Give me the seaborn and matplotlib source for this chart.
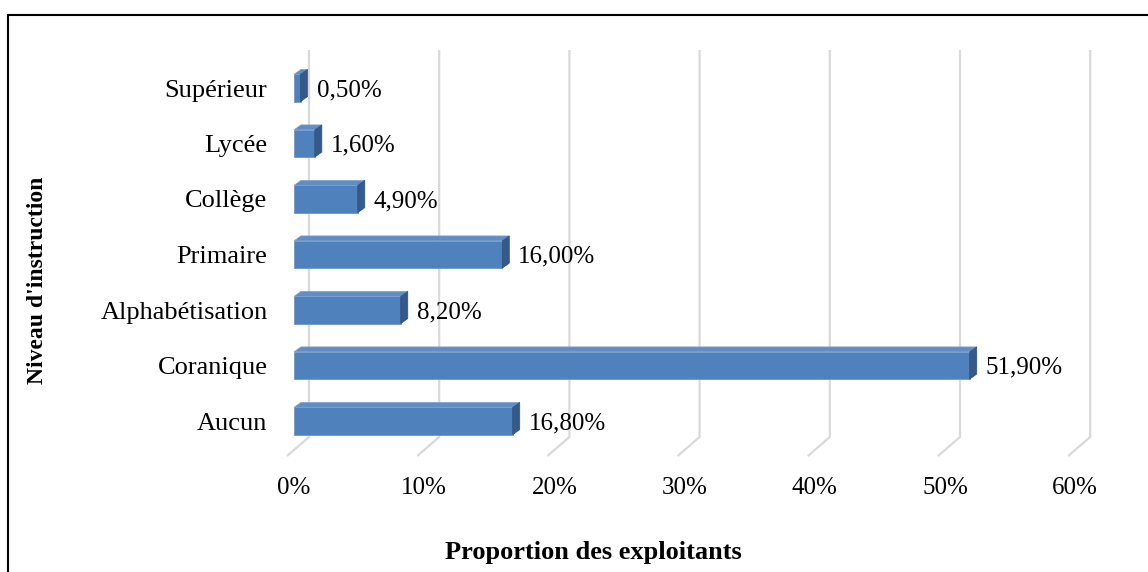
import matplotlib
matplotlib.use("Agg")
import matplotlib.pyplot as plt
import matplotlib.transforms as mtransforms
from matplotlib.patches import Polygon, Rectangle
import seaborn as sns
import pandas as pd

categories = ["Supérieur", "Lycée", "Collège", "Primaire", "Alphabétisation", "Coranique", "Aucun"]
values = [0.5, 1.6, 4.9, 16.0, 8.2, 51.9, 16.8]
value_labels = ["0,50%", "1,60%", "4,90%", "16,00%", "8,20%", "51,90%", "16,80%"]
x_ticks = [0, 10, 20, 30, 40, 50, 60]
x_tick_labels = ["0%", "10%", "20%", "30%", "40%", "50%", "60%"]
x_title = "Proportion des exploitants"
y_title = "Niveau d'instruction"

sns.set_theme(style="white")
plt.rcParams["font.family"] = ["Liberation Serif", "DejaVu Serif"]
plt.rcParams["text.color"] = "black"
plt.rcParams["xtick.color"] = "black"
plt.rcParams["ytick.color"] = "black"
plt.rcParams["axes.labelcolor"] = "black"

df = pd.DataFrame({"cat": categories, "val": values})

W, H = 1148, 572
fig = plt.figure(figsize=(W / 100, H / 100), dpi=100)
ax_l, ax_r, ax_t, ax_b = 280, 1100, 50, 445
ax = fig.add_axes([ax_l / W, 1 - ax_b / H, (ax_r - ax_l) / W, (ax_b - ax_t) / H])

bar_w = 0.49
face = "#4F81BD"
sns.barplot(data=df, x="val", y="cat", order=categories, orient="h",
            color=face, saturation=1, width=bar_w, ax=ax,
            edgecolor="#6F97C8", linewidth=0.6, zorder=3)

pxx = 13.02   # pixels per data unit (x)
pxy = 55.5    # pixels per category (y)
x0 = (ax_l - 294) / pxx
x1 = (ax_r - 294) / pxx
y_top = (ax_t - 88) / pxy
y_bot = (ax_b - 88) / pxy
ax.set_xlim(x0, x1)
ax.set_ylim(y_bot, y_top)

# 3D side & top faces of each bar
ddx, ddy = 7 / pxx, -5 / pxy
for p in list(ax.patches):
    xl, yb, w, h = p.get_x(), p.get_y(), p.get_width(), p.get_height()
    ytop = yb
    ybtm = yb + h
    xr = xl + w
    top = Polygon([(xl, ytop), (xr, ytop), (xr + ddx, ytop + ddy), (xl + ddx, ytop + ddy)],
                  closed=True, facecolor="#5F8DC6", edgecolor="#7FA3D0", lw=0.5, zorder=3)
    side = Polygon([(xr, ytop), (xr + ddx, ytop + ddy), (xr + ddx, ybtm + ddy), (xr, ybtm)],
                   closed=True, facecolor="#36598A", edgecolor="#2F4F7A", lw=0.5, zorder=3)
    ax.add_patch(top)
    ax.add_patch(side)

# back-wall gridlines with floor diagonals
gx_back = 15 / pxx
gx_front = -7 / pxx
y_wall_bottom = (437 - 88) / pxy
y_floor = (456 - 88) / pxy
for v in x_ticks:
    ax.plot([v + gx_back, v + gx_back, v + gx_front],
            [y_top, y_wall_bottom, y_floor],
            color="#D9D9D9", lw=1.6, zorder=1, clip_on=False,
            solid_capstyle="butt")

# value labels
for i, (v, lab) in enumerate(zip(values, value_labels)):
    ax.text(v + ddx + 9 / pxx, i + 0.04, lab, va="center", ha="left",
            fontsize=18, color="black", zorder=4)

ax.set_xticks(x_ticks)
ax.set_xticklabels(x_tick_labels, fontsize=18, color="black")
shift = mtransforms.ScaledTranslation(-7 / 100, 0, fig.dpi_scale_trans)
for t in ax.get_xticklabels():
    t.set_transform(t.get_transform() + shift)
ax.tick_params(axis="x", length=0, pad=23, colors="black")
ax.tick_params(axis="y", length=0, pad=9, labelsize=19, colors="black")
ax.set_xlabel("")
ax.set_ylabel("")
for s in ax.spines.values():
    s.set_visible(False)
ax.grid(False)

fig.text(593 / W, 1 - 552 / H, x_title, ha="center", va="center",
         fontsize=19, fontweight="bold", color="black")
fig.text(38 / W, 1 - 280 / H, y_title, ha="center", va="center",
         fontsize=17, fontweight="bold", rotation=90, color="black")

fig.patches.append(Rectangle((8 / W, -0.2), 1.2, (H - 15) / H + 0.2,
                             transform=fig.transFigure, fill=False,
                             edgecolor="black", lw=1.5, zorder=10))

fig.savefig("out.png", dpi=100)
